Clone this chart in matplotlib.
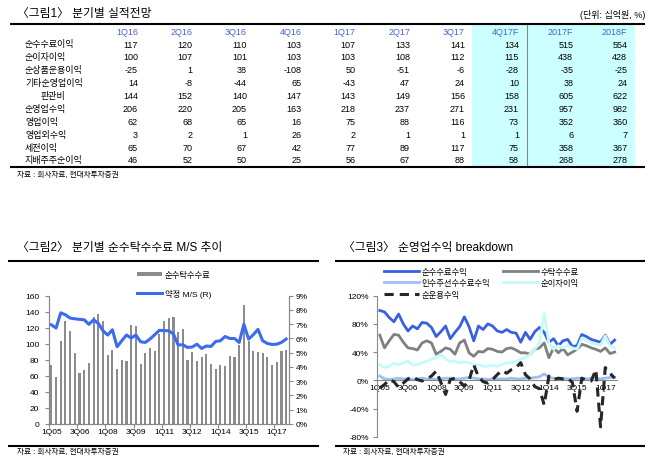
import matplotlib
matplotlib.use("Agg")
import matplotlib.pyplot as plt
import numpy as np
from matplotlib.lines import Line2D
from matplotlib.patches import Rectangle, Patch

plt.rcParams['font.family'] = ['Liberation Sans', 'Noto Sans CJK KR', 'DejaVu Sans']

# ---------------- data: table ----------------
col_labels = ["1Q16", "2Q16", "3Q16", "4Q16", "1Q17", "2Q17", "3Q17", "4Q17F", "2017F", "2018F"]
row_labels = ["순수수료이익", "순이자이익", "순상품운용이익", "기타순영업이익", "판관비",
              "순영업수익", "영업이익", "영업외수익", "세전이익", "지배주주순이익"]
fee_income = [117, 120, 110, 103, 107, 133, 141, 134, 515, 554]
interest_income = [100, 107, 101, 103, 103, 108, 112, 115, 438, 428]
trading_income = [-25, 1, 38, -108, 50, -51, -6, -28, -35, -25]
other_income = [14, -8, -44, 65, -43, 47, 24, 10, 38, 24]
sga = [144, 152, 140, 147, 143, 149, 156, 158, 605, 622]
net_revenue = [206, 220, 205, 163, 218, 237, 271, 231, 957, 982]
op_profit = [62, 68, 65, 16, 75, 88, 116, 73, 352, 360]
non_op = [3, 2, 1, 26, 2, 1, 1, 1, 6, 7]
pretax = [65, 70, 67, 42, 77, 89, 117, 75, 358, 367]
net_profit = [46, 52, 50, 25, 56, 67, 88, 58, 268, 278]
table_rows = [fee_income, interest_income, trading_income, other_income, sga,
              net_revenue, op_profit, non_op, pretax, net_profit]

# ---------------- data: chart 2 ----------------
quarters = [f"{q}Q{y:02d}" for y in range(5, 18) for q in range(1, 5)][:51]
brokerage_fee = [73, 59, 103, 128, 116, 88, 64, 67.5, 76, 133,
                 137.5, 128, 86, 92.5, 69, 80, 78, 124, 122, 75,
                 89, 95, 91, 112.5, 129, 131.7, 133, 115, 118, 80,
                 90, 79, 83, 87.5, 75, 69, 73, 72, 85, 83,
                 98, 149, 103, 90.5, 90, 88, 84, 73.5, 77, 91, 92]
market_share = [6.96, 6.73, 7.8, 7.66, 7.43, 7.38, 7.34, 7.31, 6.99, 7.31,
                7.06, 6.54, 6.24, 6.61, 5.42, 5.84, 6.24, 6.03, 6.24, 5.77,
                5.72, 5.96, 6.26, 6.57, 6.55, 6.54, 6.31, 5.54, 5.56, 5.37,
                5.4, 5.6, 5.3, 5.47, 5.44, 5.79, 5.84, 6.14, 6.0, 6.0,
                5.72, 7.0, 5.96, 6.26, 6.64, 5.84, 5.65, 5.58, 5.6, 5.72, 5.96]
tick_labels = ["1Q05", "3Q06", "1Q08", "3Q09", "1Q11", "3Q12", "1Q14", "3Q15", "1Q17"]

# ---------------- data: chart 3 (%) ----------------
s_fee = [99, 97, 89, 83, 94, 80, 70, 77, 73, 82, 81, 75, 62, 69, 77, 59, 68, 76, 90, 76,
         56, 77, 72, 80, 77, 70, 68, 72, 68, 67, 54, 68, 58, 69, 75, 68, 54, 59, 49, 56,
         58, 48, 49, 65, 62, 58, 56, 54, 64, 51, 57]
s_brok = [64, 46, 56, 65, 64, 54, 46, 45, 43, 53, 56, 53, 37, 41, 46, 44, 37, 53, 57, 39,
          34, 41, 40, 45, 44, 41, 40, 45, 46, 43, 39, 39, 37, 44, 46, 53, 32, 46, 39, 45,
          36, 40, 44, 51, 49, 46, 44, 41, 46, 38, 40]
s_ib = [6, 2, 1, 2, 3, 2, 2, 1, 2, 3, 2, 2, 1, 2, 3, 3, 2, 2, 3, 4,
        3, 2, 2, 1, 2, 2, 2, 2, 3, 2, 2, 3, 3, 4, 5, 9, 4, 3, 2, 3,
        2, 2, 3, 3, 2, 3, 3, 2, 3, 4, 4]
s_int = [22, 18, 20, 24, 22, 25, 27, 22, 22, 25, 27, 30, 32, 37, 30, 27, 27, 25, 26, 25,
         22, 22, 20, 20, 21, 20, 22, 25, 25, 27, 30, 32, 37, 44, 53, 95, 53, 44, 49, 46,
         49, 46, 44, 60, 56, 53, 51, 50, 63, 49, 46]
s_trade = [-11, -6, 1, -2, -10, -4, 2, 5, 1, -1, 2, 6, 13, -3, -20, 1, 3, -2, -8, 0,
           22, 5, -2, -4, 1, 8, 14, 10, 15, 18, 25, 8, 2, -9, -12, -35, 6, 1, 3, 2,
           3, -3, -44, 3, 0, -1, 15, -66, 18, 10, 3]
series3_names = ["순수수료수익", "수탁수수료", "인수주선수수료수익", "순이자이익", "순운용수익"]

# ---------------- layout helpers ----------------
W, H = 652, 464
fig = plt.figure(figsize=(W / 100, H / 100), dpi=100)
fig.patch.set_facecolor('white')

def fy(y):
    return 1 - y / H

def box(x0, y0, x1, y1):
    return [x0 / W, 1 - y1 / H, (x1 - x0) / W, (y1 - y0) / H]

def hline(x0, x1, y, lw=1.5, color='black'):
    fig.add_artist(Line2D([x0 / W, x1 / W], [fy(y), fy(y)], transform=fig.transFigure,
                          color=color, lw=lw, solid_capstyle='butt'))

def text(x, y, s, **kw):
    kw.setdefault('va', 'center')
    kw.setdefault('fontsize', 6.5)
    fig.text(x / W, fy(y), s, **kw)

# ---------------- table ----------------
text(17, 14, "〈그림1〉 분기별 실적전망", fontsize=8.5)
text(645, 15, "(단위: 십억원, %)", fontsize=6.5, ha='right')
fig.add_artist(Rectangle((471.7 / W, fy(168.3)), (635 - 471.7) / W, (168.3 - 25) / H,
                         transform=fig.transFigure, facecolor='#CCFFFF', edgecolor='none', zorder=0))
fig.add_artist(Line2D([527 / W, 527 / W], [fy(25), fy(168.3)], transform=fig.transFigure,
                      color='#888888', lw=0.8))
hline(10, 645, 25)
hline(10, 645, 168.3)
col_right = [138, 192.3, 247, 301.7, 355.7, 410, 465, 519, 573.3, 627.3]
row_y = [45, 57.5, 71, 83.5, 96.7, 109.3, 122.3, 135.3, 148.3, 160.8]
for cx, lab in zip(col_right, col_labels):
    text(cx, 32.3, lab, ha='right', color='#4466CC')
for ry, lab, vals in zip(row_y, row_labels, table_rows):
    lx = 40.7 if lab == "판관비" else 25
    text(lx, ry, lab, ha='left')
    for cx, v in zip(col_right, vals):
        text(cx, ry, f"{v}", ha='right')
text(17, 175.5, "자료 : 회사자료, 현대차투자증권", fontsize=5.5)

# ---------------- chart 2 ----------------
text(17, 248, "〈그림2〉 분기별 순수탁수수료 M/S 추이", fontsize=8.5)
hline(8, 319, 262.3)
hline(8, 319, 446.7)
text(17, 452.5, "자료 : 회사자료, 현대차투자증권", fontsize=5.5)

gray = '#888888'
x = np.arange(len(brokerage_fee))
ax2 = fig.add_axes(box(49, 296.7, 288.5, 425))
ax2.bar(x, brokerage_fee, width=0.45, color='#8C8C8C', zorder=2)
ax2.set_xlim(-0.5, len(x) - 0.5)
ax2.set_ylim(0, 160)
ax2.set_yticks(range(0, 161, 20))
ax2r = ax2.twinx()
ax2r.plot(x, market_share, color='#3B6BEF', lw=2.2, solid_joinstyle='round', zorder=3)
ax2r.set_ylim(0, 9)
ax2r.set_yticks(range(0, 10))
ax2r.set_yticklabels([f"{v}%" for v in range(0, 10)])
ax2.set_xticks(np.arange(-0.5, len(x), 6))
ax2.set_xticklabels([])
ax2.set_xticks(np.arange(0, len(x), 6), minor=True)
ax2.set_xticklabels(tick_labels, minor=True)
ax2.tick_params(axis='x', which='major', length=3, color=gray, width=0.8)
ax2.tick_params(axis='x', which='minor', length=0, labelsize=6, pad=3)
ax2.tick_params(axis='y', length=3, color=gray, width=0.8, labelsize=6, pad=4)
ax2r.tick_params(axis='y', length=3, color=gray, width=0.8, labelsize=6, pad=2)
for a in (ax2, ax2r):
    a.spines['top'].set_visible(False)
    for s in ('left', 'right', 'bottom'):
        a.spines[s].set_color(gray)
        a.spines[s].set_linewidth(0.8)
    a.patch.set_visible(False)
handles2 = [Patch(facecolor='#8C8C8C', edgecolor='none'),
            Line2D([0], [0], color='#3B6BEF', lw=2.2)]
fig.legend(handles2, ["순수탁수수료", "약정 M/S (R)"], loc='upper left',
           bbox_to_anchor=(137 / W, fy(272)), frameon=False, fontsize=6,
           borderpad=0, borderaxespad=0, handlelength=3, handleheight=0.5,
           handletextpad=0.35, labelspacing=1.15)

# ---------------- chart 3 ----------------
text(343, 248, "〈그림3〉 순영업수익 breakdown", fontsize=8.5)
hline(335, 645, 262.3)
hline(335, 645, 446.7)
text(343, 452.5, "자료 : 회사자료, 현대차투자증권", fontsize=5.5)

ax3 = fig.add_axes(box(377, 296.7, 617, 437.7))
colors3 = ['#3A5FE0', '#808080', '#9EC0F0', '#C6FAFA', '#262626']
series3 = [s_fee, s_brok, s_ib, s_int, s_trade]
handles3 = []
for name, ser, c in zip(series3_names, series3, colors3):
    if name == "순운용수익":
        ln, = ax3.plot(x, ser, color=c, lw=2.2, dashes=(3, 2), label=name, zorder=5)
    else:
        ln, = ax3.plot(x, ser, color=c, lw=2.0, label=name, solid_joinstyle='round')
    handles3.append(ln)
ax3.set_xlim(-0.6, len(x) - 0.5)
ax3.set_ylim(-80, 120)
ax3.set_yticks(range(-80, 121, 40))
ax3.set_yticklabels([f"{v}%" for v in range(-80, 121, 40)])
ax3.set_xticks(np.arange(0, len(x), 6))
ax3.set_xticklabels(tick_labels)
ax3.spines['top'].set_visible(False)
ax3.spines['right'].set_visible(False)
ax3.spines['bottom'].set_position(('data', 0))
for s in ('left', 'bottom'):
    ax3.spines[s].set_color(gray)
    ax3.spines[s].set_linewidth(0.8)
ax3.tick_params(axis='x', length=0, labelsize=6, pad=3)
ax3.tick_params(axis='y', length=3, color=gray, width=0.8, labelsize=6, pad=3)
ax3.patch.set_visible(False)
order = [0, 2, 4, 1, 3]
fig.legend([handles3[i] for i in order], [series3_names[i] for i in order],
           loc='upper left', ncol=2, bbox_to_anchor=(384 / W, fy(268.5)), frameon=False,
           fontsize=6, borderpad=0, borderaxespad=0, handlelength=4.2,
           handletextpad=0.3, labelspacing=0.45, columnspacing=1.6)

fig.savefig("out.png", dpi=100)
